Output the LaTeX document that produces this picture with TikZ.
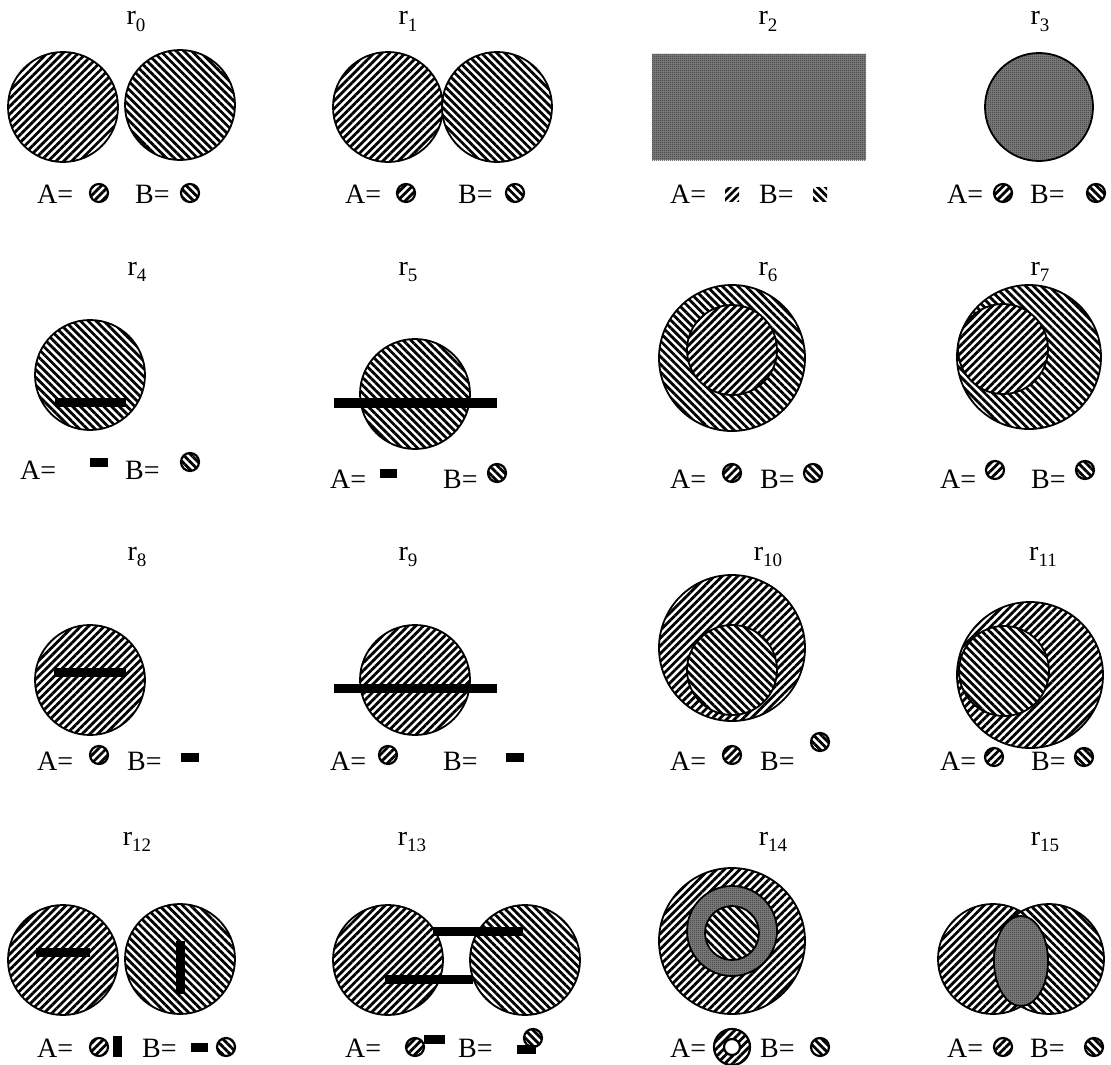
\documentclass[tikz,border=0pt]{standalone}
\usepackage{fontspec}
\setmainfont{Liberation Serif}
\usetikzlibrary{patterns,patterns.meta}
\pgfdeclarepatternformonly{finecheck}{\pgfpointorigin}{\pgfqpoint{2pt}{2pt}}{\pgfqpoint{2pt}{2pt}}{%
 \pgfpathrectangle{\pgfpointorigin}{\pgfqpoint{1pt}{1pt}}%
 \pgfpathrectangle{\pgfqpoint{1pt}{1pt}}{\pgfqpoint{1pt}{1pt}}%
 \pgfusepath{fill}}
\newcommand{\rlab}[1]{r\raisebox{-0.22em}{\fontsize{19}{19}\selectfont #1}}
\begin{document}
\begin{tikzpicture}[x=1pt,y=-1pt,
 hA/.style={preaction={fill=white},pattern={Lines[angle=45,distance=5.5pt,line width=2.8pt]}},
 hB/.style={preaction={fill=white},pattern={Lines[angle=-45,distance=5.5pt,line width=2.8pt]}},
 hC/.style={preaction={fill=black!50},pattern=finecheck,pattern color=black!80},
 big/.style={draw=black,line width=1.8pt},
 small/.style={draw=black,line width=2.2pt},
 bar/.style={fill=black},
 txt/.style={font=\fontsize{28}{30}\selectfont,inner sep=0pt,anchor=base west},
 ttl/.style={font=\fontsize{28}{30}\selectfont,inner sep=0pt,anchor=base}]
\useasboundingbox (0,0) rectangle (1111,1065);
% ---------- row 1
% r0
\node[ttl] (t0) at (136,25) {\rlab{0}};
\draw[big,hA] (63,107) circle[radius=55];
\draw[big,hB] (180,105) circle[radius=55];
\node[txt] (a0) at (37,203) {A=};
\draw[small,hA] (99,193) circle[radius=9];
\node[txt] (b0) at (135,203) {B=};
\draw[small,hB] (190,193) circle[radius=9];
% r1
\node[ttl] (t1) at (408,25) {\rlab{1}};
\draw[big,hA] (388,107) circle[radius=55];
\draw[big,hB] (497,107) circle[radius=55];
\node[txt] (a1) at (345,203) {A=};
\draw[small,hA] (406,193) circle[radius=9];
\node[txt] (b1) at (458,203) {B=};
\draw[small,hB] (515,193) circle[radius=9];
% r2
\node[ttl] (t2) at (768,25) {\rlab{2}};
\fill[hC] (652,54) rectangle (866,160);
\node[txt] (a2) at (670,203) {A=};
\fill[hA] (725,187) rectangle (739,201);
\node[txt] (b2) at (759,203) {B=};
\fill[hB] (813,187) rectangle (827,201);
% r3
\node[ttl] (t3) at (1040,25) {\rlab{3}};
\draw[big,hC] (1039,107) circle[radius=54];
\node[txt] (a3) at (947,203) {A=};
\draw[small,hA] (1003,193) circle[radius=9];
\node[txt] (b3) at (1030,203) {B=};
\draw[small,hB] (1096,193) circle[radius=9];
% ---------- row 2
% r4
\node[ttl] (t4) at (137,275) {\rlab{4}};
\draw[big,hB] (90,375) circle[radius=55];
\fill[bar] (55,398) rectangle (126,407);
\node[txt] (a4) at (20,479) {A=};
\fill[bar] (90,458) rectangle (108,467);
\node[txt] (b4) at (125,479) {B=};
\draw[small,hB] (190,462) circle[radius=9];
% r5
\node[ttl] (t5) at (408,275) {\rlab{5}};
\draw[big,hB] (415,394) circle[radius=55];
\fill[bar] (334,398) rectangle (497,408);
\node[txt] (a5) at (330,488) {A=};
\fill[bar] (380,469) rectangle (397,478);
\node[txt] (b5) at (443,488) {B=};
\draw[small,hB] (497,473) circle[radius=9];
% r6
\node[ttl] (t6) at (768,275) {\rlab{6}};
\draw[big,hB] (732,358) circle[radius=73];
\draw[big,hA] (732,350) circle[radius=45];
\node[txt] (a6) at (670,488) {A=};
\draw[small,hA] (732,473) circle[radius=9];
\node[txt] (b6) at (760,488) {B=};
\draw[small,hB] (813,473) circle[radius=9];
% r7
\node[ttl] (t7) at (1040,275) {\rlab{7}};
\draw[big,hB] (1029,357) circle[radius=72];
\draw[big,hA] (1003,349) circle[radius=45];
\node[txt] (a7) at (940,488) {A=};
\draw[small,hA] (995,470) circle[radius=9];
\node[txt] (b7) at (1031,488) {B=};
\draw[small,hB] (1085,470) circle[radius=9];
% ---------- row 3
% r8
\node[ttl] (t8) at (137,560) {\rlab{8}};
\draw[big,hA] (90,680) circle[radius=55];
\fill[bar] (54,668) rectangle (126,677);
\node[txt] (a8) at (37,770) {A=};
\draw[small,hA] (99,755) circle[radius=9];
\node[txt] (b8) at (127,770) {B=};
\fill[bar] (181,753) rectangle (199,762);
% r9
\node[ttl] (t9) at (408,560) {\rlab{9}};
\draw[big,hA] (415,680) circle[radius=55];
\fill[bar] (334,684) rectangle (497,693);
\node[txt] (a9) at (330,770) {A=};
\draw[small,hA] (388,755) circle[radius=9];
\node[txt] (b9) at (443,770) {B=};
\fill[bar] (506,753) rectangle (524,762);
% r10
\node[ttl] (t10) at (768,560) {\rlab{10}};
\draw[big,hA] (732,648) circle[radius=73];
\draw[big,hB] (732,670) circle[radius=45];
\node[txt] (a10) at (670,770) {A=};
\draw[small,hA] (732,755) circle[radius=9];
\node[txt] (b10) at (760,770) {B=};
\draw[small,hB] (820,742) circle[radius=9];
% r11
\node[ttl] (t11) at (1043,560) {\rlab{11}};
\draw[big,hA] (1030,675) circle[radius=73];
\draw[big,hB] (1004,671) circle[radius=45];
\node[txt] (a11) at (940,770) {A=};
\draw[small,hA] (994,757) circle[radius=9];
\node[txt] (b11) at (1031,770) {B=};
\draw[small,hB] (1084,757) circle[radius=9];
% ---------- row 4
% r12
\node[ttl] (t12) at (137,845) {\rlab{12}};
\draw[big,hA] (63,960) circle[radius=55];
\draw[big,hB] (180,959) circle[radius=55];
\fill[bar] (36,948) rectangle (90,957);
\fill[bar] (176,941) rectangle (185,994);
\node[txt] (a12) at (37,1057) {A=};
\draw[small,hA] (99,1047) circle[radius=9];
\fill[bar] (113,1036) rectangle (122,1057);
\node[txt] (b12) at (142,1057) {B=};
\fill[bar] (191,1043) rectangle (208,1052);
\draw[small,hB] (226,1047) circle[radius=9];
% r13
\node[ttl] (t13) at (412,845) {\rlab{13}};
\draw[big,hA] (388,960) circle[radius=55];
\draw[big,hB] (525,960) circle[radius=55];
\fill[bar] (433,927) rectangle (523,936);
\fill[bar] (385,975) rectangle (473,984);
\node[txt] (a13) at (345,1057) {A=};
\draw[small,hA] (415,1047) circle[radius=9];
\fill[bar] (424,1035) rectangle (445,1044);
\node[txt] (b13) at (458,1057) {B=};
\draw[small,hB] (533,1038) circle[radius=9];
\fill[bar] (517,1045) rectangle (536,1054);
% r14
\node[ttl] (t14) at (773,845) {\rlab{14}};
\draw[big,hA] (732,941) circle[radius=73];
\draw[big,hC] (732,931) circle[radius=45];
\draw[big,hB] (732,933) circle[radius=27];
\node[txt] (a14) at (670,1057) {A=};
\draw[small,hA] (732,1047) circle[radius=18];
\draw[small,fill=white] (732,1047) circle[radius=8];
\node[txt] (b14) at (760,1057) {B=};
\draw[small,hB] (820,1047) circle[radius=9];
% r15
\node[ttl] (t15) at (1045,845) {\rlab{15}};
\draw[big,hA] (993,959) circle[radius=55];
\draw[big,hB] (1049,959) circle[radius=55];
\draw[big,hC] (1021,961) ellipse[x radius=27,y radius=45];
\node[txt] (a15) at (947,1057) {A=};
\draw[small,hA] (1003,1047) circle[radius=9];
\node[txt] (b15) at (1030,1057) {B=};
\draw[small,hB] (1094,1047) circle[radius=9];
\end{tikzpicture}
\end{document}
